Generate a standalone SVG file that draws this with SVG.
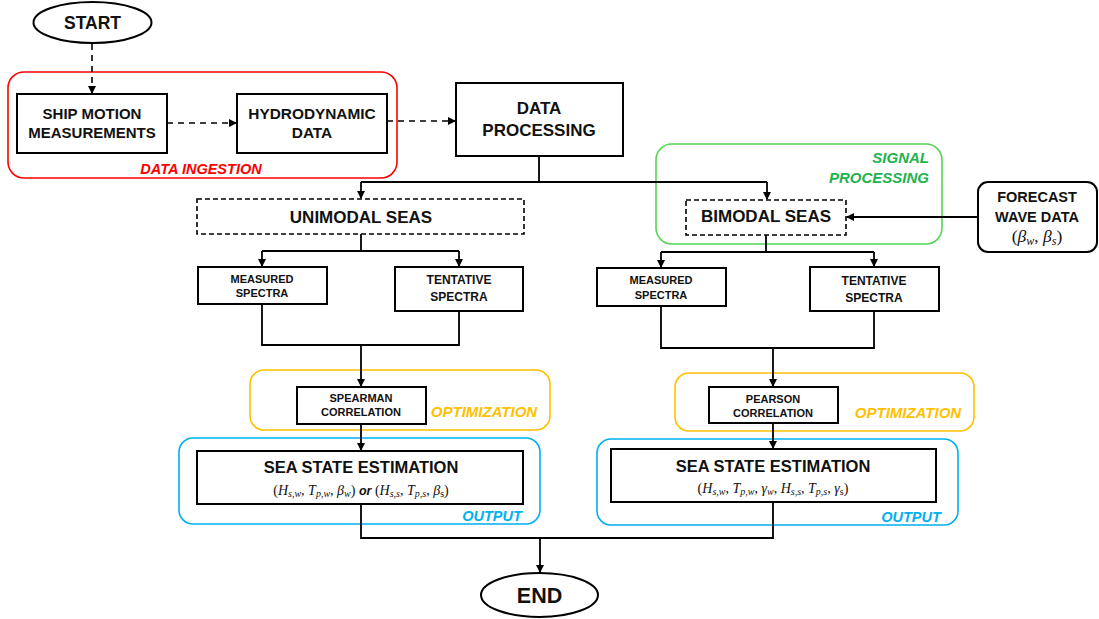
<svg xmlns="http://www.w3.org/2000/svg" width="1099" height="619" viewBox="0 0 1099 619">
<defs>
<marker id="ah" markerWidth="8" markerHeight="8" refX="7" refY="4" orient="auto" markerUnits="userSpaceOnUse">
<path d="M0,0 L8,4 L0,8 Z" fill="#000"/>
</marker>
<style>
.box{fill:#fff;stroke:#000;stroke-width:2}
.dbox{fill:#fff;stroke:#000;stroke-width:1.6;stroke-dasharray:5,3}
.t{font-family:"Liberation Sans",Arial,sans-serif;font-weight:bold;fill:#111;text-anchor:middle}
.lab{font-family:"Liberation Sans",Arial,sans-serif;font-weight:bold;font-style:italic}
.m{font-family:"Liberation Serif","Times New Roman",serif;fill:#111;text-anchor:middle}
.i{font-style:italic}
.c{fill:none;stroke:#000;stroke-width:1.8}
.cd{fill:none;stroke:#000;stroke-width:1.6;stroke-dasharray:6,5}
</style>
</defs>
<rect width="1099" height="619" fill="#fff"/>

<!-- containers -->
<g id="data-ingestion">
<rect x="8" y="72" width="389" height="106" rx="16" fill="none" stroke="#ff0000" stroke-width="1.6"/>
<text class="lab" x="201" y="174" font-size="14.5" fill="#ff0000" text-anchor="middle">DATA INGESTION</text>
</g>
<g id="signal-processing">
<rect x="656" y="144" width="286" height="100" rx="16" fill="none" stroke="#55d455" stroke-width="1.6"/>
<text class="lab" x="929" y="163" font-size="15" fill="#1db34f" text-anchor="end">SIGNAL</text>
<text class="lab" x="929" y="183" font-size="15" fill="#1db34f" text-anchor="end">PROCESSING</text>
</g>
<g id="optimization-uni">
<rect x="250" y="370" width="300" height="60" rx="14" fill="none" stroke="#ffc000" stroke-width="1.6"/>
<text class="lab" x="484" y="416.5" font-size="15" fill="#ffc000" text-anchor="middle">OPTIMIZATION</text>
</g>
<g id="optimization-bi">
<rect x="675" y="373" width="299" height="58" rx="14" fill="none" stroke="#ffc000" stroke-width="1.6"/>
<text class="lab" x="908" y="417.5" font-size="15" fill="#ffc000" text-anchor="middle">OPTIMIZATION</text>
</g>
<g id="output-uni">
<rect x="179" y="438" width="361" height="86" rx="14" fill="none" stroke="#00b0f0" stroke-width="1.6"/>
<text class="lab" x="492" y="521" font-size="14.5" fill="#00b0f0" text-anchor="middle">OUTPUT</text>
</g>
<g id="output-bi">
<rect x="597" y="439" width="361" height="86" rx="14" fill="none" stroke="#00b0f0" stroke-width="1.6"/>
<text class="lab" x="911" y="522" font-size="14.5" fill="#00b0f0" text-anchor="middle">OUTPUT</text>
</g>

<!-- connectors -->
<g id="connectors">
<path class="cd" d="M92,44 V93" marker-end="url(#ah)"/>
<path class="cd" d="M167,123 H236" marker-end="url(#ah)"/>
<path class="cd" d="M387,121 H455" marker-end="url(#ah)"/>
<path class="c" d="M539,156 V182 M361,182 H767"/>
<path class="c" d="M361,182 V198" marker-end="url(#ah)"/>
<path class="c" d="M767,182 V199" marker-end="url(#ah)"/>
<path class="c" d="M978,217 H847" marker-end="url(#ah)"/>
<path class="c" d="M361,234 V251 M262,251 H459"/>
<path class="c" d="M262,251 V266" marker-end="url(#ah)"/>
<path class="c" d="M459,251 V266" marker-end="url(#ah)"/>
<path class="c" d="M262,304 V345 H459 V311"/>
<path class="c" d="M361,345 V386" marker-end="url(#ah)"/>
<path class="c" d="M361,424 V450" marker-end="url(#ah)"/>
<path class="c" d="M766,235 V252 M661,252 H874"/>
<path class="c" d="M661,252 V267" marker-end="url(#ah)"/>
<path class="c" d="M874,252 V266" marker-end="url(#ah)"/>
<path class="c" d="M661,306 V348 H874 V311"/>
<path class="c" d="M773,348 V386" marker-end="url(#ah)"/>
<path class="c" d="M773,423 V448" marker-end="url(#ah)"/>
<path class="c" d="M361,504 V538 H773 V502"/>
<path class="c" d="M540,538 V572" marker-end="url(#ah)"/>
</g>

<!-- nodes -->
<g id="start">
<ellipse cx="92.5" cy="22.5" rx="59" ry="20.5" class="box"/>
<text class="t" x="92.5" y="29" font-size="17.5">START</text>
</g>
<g id="ship-motion">
<rect x="17" y="94" width="150" height="59" class="box"/>
<text class="t" x="92" y="119.4" font-size="15">SHIP MOTION</text>
<text class="t" x="92" y="138.4" font-size="15">MEASUREMENTS</text>
</g>
<g id="hydrodynamic">
<rect x="237" y="94" width="150" height="59" class="box"/>
<text class="t" x="312" y="119.4" font-size="15.4">HYDRODYNAMIC</text>
<text class="t" x="312" y="138.4" font-size="15.4">DATA</text>
</g>
<g id="data-processing">
<rect x="456" y="83" width="167" height="73" class="box"/>
<text class="t" x="539" y="114" font-size="17">DATA</text>
<text class="t" x="539" y="136" font-size="17">PROCESSING</text>
</g>
<g id="unimodal">
<rect x="197" y="199" width="327" height="35" class="dbox"/>
<text class="t" x="361" y="223" font-size="17">UNIMODAL SEAS</text>
</g>
<g id="bimodal">
<rect x="686" y="200" width="160" height="35" class="dbox"/>
<text class="t" x="766" y="222" font-size="17">BIMODAL SEAS</text>
</g>
<g id="forecast">
<rect x="978" y="182" width="119" height="70" rx="10" class="box"/>
<text class="t" x="1037" y="202" font-size="14.5">FORECAST</text>
<text class="t" x="1037" y="222" font-size="14.5">WAVE DATA</text>
<text class="m" x="1037" y="242" font-size="17.5">(<tspan class="i">β</tspan><tspan class="i" font-size="12" dy="3">w</tspan><tspan dy="-3">, </tspan><tspan class="i">β</tspan><tspan class="i" font-size="12" dy="3">s</tspan><tspan dy="-3">)</tspan></text>
</g>
<g id="measured-uni">
<rect x="198" y="267" width="129" height="37" class="box"/>
<text class="t" x="262" y="283" font-size="11">MEASURED</text>
<text class="t" x="262" y="297" font-size="11">SPECTRA</text>
</g>
<g id="tentative-uni">
<rect x="395" y="267" width="128" height="44" class="box"/>
<text class="t" x="459" y="284.3" font-size="12">TENTATIVE</text>
<text class="t" x="459" y="301.3" font-size="12">SPECTRA</text>
</g>
<g id="measured-bi">
<rect x="597" y="268" width="129" height="38" class="box"/>
<text class="t" x="661" y="284" font-size="11">MEASURED</text>
<text class="t" x="661" y="299" font-size="11">SPECTRA</text>
</g>
<g id="tentative-bi">
<rect x="810" y="267" width="129" height="44" class="box"/>
<text class="t" x="874" y="285.3" font-size="12">TENTATIVE</text>
<text class="t" x="874" y="302.3" font-size="12">SPECTRA</text>
</g>
<g id="spearman">
<rect x="297" y="387" width="129" height="37" class="box"/>
<text class="t" x="361" y="402" font-size="11">SPEARMAN</text>
<text class="t" x="361" y="416" font-size="11">CORRELATION</text>
</g>
<g id="pearson">
<rect x="709" y="387" width="129" height="36" class="box"/>
<text class="t" x="773" y="403" font-size="11">PEARSON</text>
<text class="t" x="773" y="417" font-size="11">CORRELATION</text>
</g>
<g id="sea-state-uni">
<rect x="197" y="451" width="326" height="53" class="box"/>
<text class="t" x="361" y="473" font-size="16.5">SEA STATE ESTIMATION</text>
<text class="m" x="361" y="494.5" font-size="14">(<tspan class="i">H</tspan><tspan class="i" font-size="10" dy="2.5">s,w</tspan><tspan dy="-2.5">, </tspan><tspan class="i">T</tspan><tspan class="i" font-size="10" dy="2.5">p,w</tspan><tspan dy="-2.5">, </tspan><tspan class="i">β</tspan><tspan class="i" font-size="10" dy="2.5">w</tspan><tspan dy="-2.5">) </tspan><tspan font-family="Liberation Sans, Arial, sans-serif" font-weight="bold" font-style="italic" font-size="12.5">or</tspan> (<tspan class="i">H</tspan><tspan class="i" font-size="10" dy="2.5">s,s</tspan><tspan dy="-2.5">, </tspan><tspan class="i">T</tspan><tspan class="i" font-size="10" dy="2.5">p,s</tspan><tspan dy="-2.5">, </tspan><tspan class="i">β</tspan><tspan font-size="10" dy="2.5">s</tspan><tspan dy="-2.5">)</tspan></text>
</g>
<g id="sea-state-bi">
<rect x="611" y="449" width="325" height="53" class="box"/>
<text class="t" x="773" y="472" font-size="16.5">SEA STATE ESTIMATION</text>
<text class="m" x="773" y="492.5" font-size="14">(<tspan class="i">H</tspan><tspan class="i" font-size="10" dy="2.5">s,w</tspan><tspan dy="-2.5">, </tspan><tspan class="i">T</tspan><tspan class="i" font-size="10" dy="2.5">p,w</tspan><tspan dy="-2.5">, </tspan><tspan class="i">γ</tspan><tspan class="i" font-size="10" dy="2.5">w</tspan><tspan dy="-2.5">, </tspan><tspan class="i">H</tspan><tspan class="i" font-size="10" dy="2.5">s,s</tspan><tspan dy="-2.5">, </tspan><tspan class="i">T</tspan><tspan class="i" font-size="10" dy="2.5">p,s</tspan><tspan dy="-2.5">, </tspan><tspan class="i">γ</tspan><tspan font-size="10" dy="2.5">s</tspan><tspan dy="-2.5">)</tspan></text>
</g>
<g id="end">
<ellipse cx="539.5" cy="595" rx="58.5" ry="22" class="box"/>
<text class="t" x="539.5" y="603" font-size="21.5">END</text>
</g>
</svg>
